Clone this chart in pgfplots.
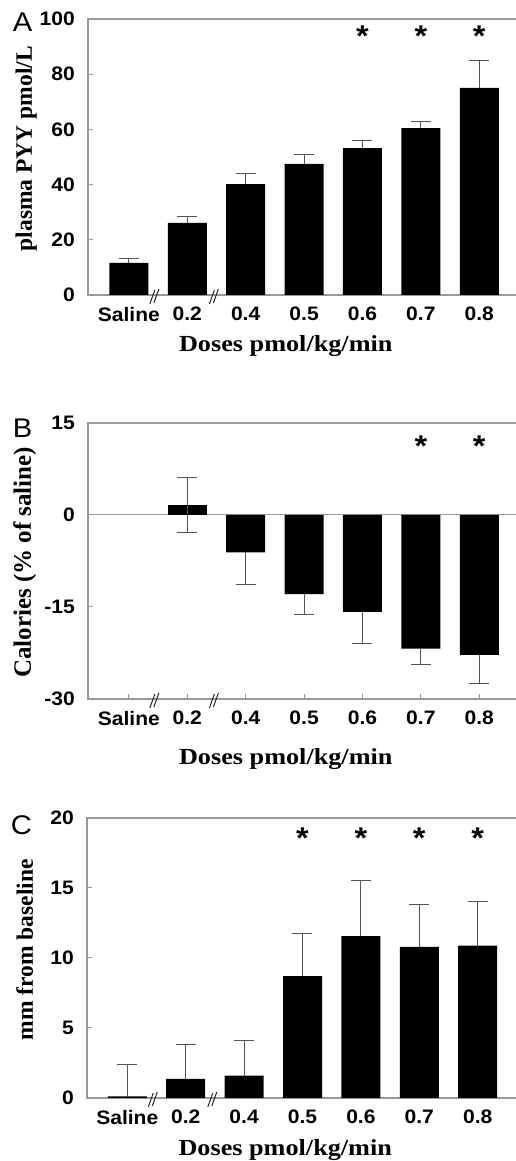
\documentclass[border=0pt]{standalone}
\usepackage{fontspec}
\usepackage{pgfplots}
\pgfplotsset{compat=1.18}
\setmainfont{Liberation Sans}
\newfontfamily\sansst[FakeStretch=1.08]{Liberation Sans}
\newfontfamily\serifst[FakeStretch=1.14]{Liberation Serif}
\newfontfamily\serifup{Liberation Serif}
\newcommand\tickfont{\sansst\bfseries\fontsize{19.5}{21}\selectfont}
\newcommand\xlabfont{\serifst\bfseries\fontsize{23}{25}\selectfont}
\newcommand\ylabfont{\serifup\bfseries\fontsize{23.5}{25}\selectfont}
\newcommand\starfont{\sansst\bfseries\fontsize{30}{30}\selectfont}
\newcommand\panelfont{\sansst\fontsize{27}{28}\selectfont}
\definecolor{axgray}{rgb}{0.6,0.6,0.6}
\definecolor{errgray}{rgb}{0.33,0.33,0.33}

\pgfplotsset{
  panel/.style={
    scale only axis, width=429pt, xmin=-0.7, xmax=6.646,
    axis line style={axgray, line width=1.1pt},
    tick style={axgray, line width=1pt}, major tick length=5pt, tick pos=left,
    xtick={0,...,6}, xticklabels={Saline,0.2,0.4,0.5,0.6,0.7,0.8},
    tick label style={font=\tickfont},
    xticklabel style={inner sep=0pt, anchor=north, yshift=-12pt},
    yticklabel style={inner sep=0pt, anchor=east, xshift=-13pt},
    bar width=39pt, clip=false,
    error bars/error bar style={draw=errgray, line width=1pt},
    error bars/error mark options={rotate=90, draw=errgray, mark size=10pt, line width=1pt},
    xlabel={Doses pmol/kg/min},
    xlabel style={font=\xlabfont, anchor=base, at={(axis description cs:0.461,0)}},
  },
}
\tikzset{
  brk/.style={black!85, line width=1pt},
  star/.style={font=\starfont, inner sep=0pt, yshift=-6.6pt},
}

\begin{document}
\begin{tikzpicture}
\useasboundingbox (0,0) rectangle (515pt,1161pt);

% panel A
\begin{axis}[panel, at={(88pt,866pt)}, anchor=south west, height=276pt,
  ymin=0, ymax=100, ytick={0,20,40,60,80,100}, yticklabels={0,20,40,60,80,100},
  xlabel style={yshift=-57pt},
  ylabel={plasma PYY pmol/L},
  ylabel style={font=\ylabfont, anchor=base, at={(axis description cs:-0.131,0.53)}}]
\addplot[ybar, fill=black, draw=none, error bars/.cd, y dir=plus, y explicit]
  coordinates {(0,11.6) +- (0,1.8) (1,26.1) +- (0,2.2) (2,40.2) +- (0,3.8)
               (3,47.5) +- (0,3.5) (4,53.2) +- (0,2.8) (5,60.5) +- (0,2.5)
               (6,75.0) +- (0,10.0)};
\node[star] at (axis cs:4,96) {*};
\node[star] at (axis cs:5,96) {*};
\node[star] at (axis cs:6,96) {*};
\draw[brk, shift={(axis cs:0.445,0)}] (-5pt,-9pt) -- (0pt,5pt) (-1pt,-8pt) -- (4pt,6pt);
\draw[brk, shift={(axis cs:1.464,0)}] (-5pt,-9pt) -- (0pt,5pt) (-1pt,-8pt) -- (4pt,6pt);
\end{axis}
\node[font=\panelfont, anchor=base, inner sep=0pt] at (22.5pt,1129pt) {A};

% panel B
\begin{axis}[panel, at={(88pt,462pt)}, anchor=south west, height=276pt,
  ymin=-30, ymax=15, ytick={-30,-15,0,15}, yticklabels={-30,-15,0,15},
  extra y ticks={0}, extra y tick labels={},
  extra y tick style={grid=major, major grid style={axgray, line width=1pt}, tick style={draw=none}},
  xlabel style={yshift=-66pt},
  ylabel={Calories (\% of saline)},
  ylabel style={font=\ylabfont\fontsize{25}{27}\selectfont, anchor=base, at={(axis description cs:-0.133,0.495)}}]
\addplot[ybar, fill=black, draw=none, error bars/.cd, y dir=both, y explicit]
  coordinates {(1,1.6) +- (0,4.5)};
\addplot[ybar, fill=black, draw=none, error bars/.cd, y dir=minus, y explicit]
  coordinates {(2,-6.1) +- (0,5.3) (3,-12.9) +- (0,3.4) (4,-15.8) +- (0,5.1)
               (5,-21.8) +- (0,2.6) (6,-22.8) +- (0,4.6)};
\node[star] at (axis cs:5,12.3) {*};
\node[star] at (axis cs:6,12.3) {*};
\draw[brk, shift={(axis cs:0.445,-30)}] (-5pt,-9pt) -- (0pt,5pt) (-1pt,-8pt) -- (4pt,6pt);
\draw[brk, shift={(axis cs:1.464,-30)}] (-5pt,-9pt) -- (0pt,5pt) (-1pt,-8pt) -- (4pt,6pt);
\end{axis}
\node[font=\panelfont, anchor=base, inner sep=0pt] at (22.5pt,723pt) {B};

% panel C
\begin{axis}[panel, at={(87pt,63pt)}, anchor=south west, height=280pt,
  width=430pt, xmin=-0.69, xmax=6.673,
  ymin=0, ymax=20, ytick={0,5,10,15,20}, yticklabels={0,5,10,15,20},
  xlabel style={yshift=-58pt},
  ylabel={mm from baseline},
  ylabel style={font=\ylabfont, anchor=base, at={(axis description cs:-0.126,0.529)}}]
\addplot[ybar, fill=black, draw=none, error bars/.cd, y dir=plus, y explicit]
  coordinates {(0,0.12) +- (0,2.25) (1,1.37) +- (0,2.43) (2,1.6) +- (0,2.53)
               (3,8.7) +- (0,3.06) (4,11.57) +- (0,3.99) (5,10.79) +- (0,3.0)
               (6,10.88) +- (0,3.18)};
\node[star] at (axis cs:3,19) {*};
\node[star] at (axis cs:4,19) {*};
\node[star] at (axis cs:5,19) {*};
\node[star] at (axis cs:6,19) {*};
\draw[brk, shift={(axis cs:0.445,0)}] (-5pt,-9pt) -- (0pt,5pt) (-1pt,-8pt) -- (4pt,6pt);
\draw[brk, shift={(axis cs:1.464,0)}] (-5pt,-9pt) -- (0pt,5pt) (-1pt,-8pt) -- (4pt,6pt);
\end{axis}
\node[font=\panelfont, anchor=base, inner sep=0pt] at (21.5pt,326pt) {C};
\end{tikzpicture}
\end{document}
